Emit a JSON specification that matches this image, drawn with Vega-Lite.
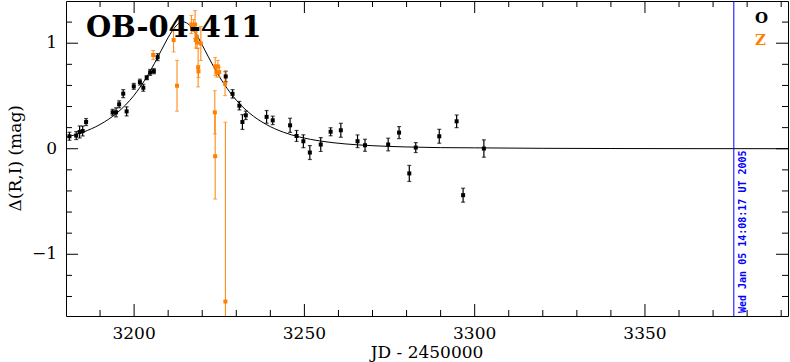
{
  "$schema": "https://vega.github.io/schema/vega-lite/v6.json",
  "width": 722,
  "height": 315,
  "autosize": {"type": "none"},
  "padding": {"left": 66, "top": 1, "right": 2, "bottom": 46},
  "background": "white",
  "config": {
    "view": {"stroke": "black", "strokeWidth": 1},
    "font": "DejaVu Serif"
  },
  "datasets": {
    "xmajor": [{"v": 3200}, {"v": 3250}, {"v": 3300}, {"v": 3350}],
    "xminor": [
      {"v": 3190}, {"v": 3210}, {"v": 3220}, {"v": 3230}, {"v": 3240},
      {"v": 3260}, {"v": 3270}, {"v": 3280}, {"v": 3290}, {"v": 3310},
      {"v": 3320}, {"v": 3330}, {"v": 3340}, {"v": 3360}, {"v": 3370},
      {"v": 3380}, {"v": 3390}
    ],
    "ymajor": [{"v": -1}, {"v": 0}, {"v": 1}],
    "yminor": [
      {"v": -1.4}, {"v": -1.2}, {"v": -0.8}, {"v": -0.6}, {"v": -0.4}, {"v": -0.2},
      {"v": 0.2}, {"v": 0.4}, {"v": 0.6}, {"v": 0.8}, {"v": 1.2}
    ],
    "model": [
      {"jd": 3180.0, "dmag": 0.109},
      {"jd": 3185.0, "dmag": 0.157},
      {"jd": 3190.0, "dmag": 0.230},
      {"jd": 3195.0, "dmag": 0.340},
      {"jd": 3200.0, "dmag": 0.507},
      {"jd": 3203.0, "dmag": 0.644},
      {"jd": 3206.0, "dmag": 0.810},
      {"jd": 3208.0, "dmag": 0.933},
      {"jd": 3210.0, "dmag": 1.054},
      {"jd": 3212.0, "dmag": 1.152},
      {"jd": 3213.4, "dmag": 1.193},
      {"jd": 3214.4, "dmag": 1.202},
      {"jd": 3215.4, "dmag": 1.193},
      {"jd": 3216.8, "dmag": 1.152},
      {"jd": 3218.8, "dmag": 1.054},
      {"jd": 3220.8, "dmag": 0.933},
      {"jd": 3222.8, "dmag": 0.810},
      {"jd": 3225.8, "dmag": 0.644},
      {"jd": 3228.8, "dmag": 0.507},
      {"jd": 3233.8, "dmag": 0.340},
      {"jd": 3238.8, "dmag": 0.230},
      {"jd": 3243.8, "dmag": 0.157},
      {"jd": 3248.6, "dmag": 0.111},
      {"jd": 3254.9, "dmag": 0.072},
      {"jd": 3261.9, "dmag": 0.046},
      {"jd": 3269.9, "dmag": 0.029},
      {"jd": 3279.9, "dmag": 0.017},
      {"jd": 3289.9, "dmag": 0.0105},
      {"jd": 3299.9, "dmag": 0.0085},
      {"jd": 3320.0, "dmag": 0.004},
      {"jd": 3340.0, "dmag": 0.002},
      {"jd": 3360.0, "dmag": 0.001},
      {"jd": 3392.0, "dmag": 0.0004}
    ],
    "obs": [
      {"jd": 3181.0, "dmag": 0.118, "err": 0.038, "band": "O"},
      {"jd": 3183.0, "dmag": 0.125, "err": 0.038, "band": "O"},
      {"jd": 3184.0, "dmag": 0.159, "err": 0.057, "band": "O"},
      {"jd": 3184.9, "dmag": 0.168, "err": 0.047, "band": "O"},
      {"jd": 3185.9, "dmag": 0.253, "err": 0.033, "band": "O"},
      {"jd": 3193.7, "dmag": 0.345, "err": 0.028, "band": "O"},
      {"jd": 3194.7, "dmag": 0.345, "err": 0.043, "band": "O"},
      {"jd": 3195.6, "dmag": 0.421, "err": 0.033, "band": "O"},
      {"jd": 3196.8, "dmag": 0.522, "err": 0.038, "band": "O"},
      {"jd": 3197.8, "dmag": 0.354, "err": 0.043, "band": "O"},
      {"jd": 3199.9, "dmag": 0.591, "err": 0.028, "band": "O"},
      {"jd": 3201.7, "dmag": 0.631, "err": 0.028, "band": "O"},
      {"jd": 3202.7, "dmag": 0.578, "err": 0.033, "band": "O"},
      {"jd": 3203.7, "dmag": 0.673, "err": 0.019, "band": "O"},
      {"jd": 3204.7, "dmag": 0.723, "err": 0.028, "band": "O"},
      {"jd": 3205.8, "dmag": 0.735, "err": 0.024, "band": "O"},
      {"jd": 3206.9, "dmag": 0.868, "err": 0.033, "band": "O"},
      {"jd": 3226.9, "dmag": 0.685, "err": 0.05, "band": "O"},
      {"jd": 3228.9, "dmag": 0.520, "err": 0.04, "band": "O"},
      {"jd": 3230.9, "dmag": 0.408, "err": 0.04, "band": "O"},
      {"jd": 3231.8, "dmag": 0.253, "err": 0.07, "band": "O"},
      {"jd": 3232.8, "dmag": 0.317, "err": 0.04, "band": "O"},
      {"jd": 3238.9, "dmag": 0.302, "err": 0.06, "band": "O"},
      {"jd": 3240.7, "dmag": 0.269, "err": 0.04, "band": "O"},
      {"jd": 3245.8, "dmag": 0.222, "err": 0.067, "band": "O"},
      {"jd": 3247.7, "dmag": 0.121, "err": 0.052, "band": "O"},
      {"jd": 3249.7, "dmag": 0.071, "err": 0.061, "band": "O"},
      {"jd": 3251.6, "dmag": -0.036, "err": 0.066, "band": "O"},
      {"jd": 3254.8, "dmag": 0.040, "err": 0.066, "band": "O"},
      {"jd": 3257.7, "dmag": 0.161, "err": 0.038, "band": "O"},
      {"jd": 3260.7, "dmag": 0.175, "err": 0.066, "band": "O"},
      {"jd": 3265.6, "dmag": 0.071, "err": 0.06, "band": "O"},
      {"jd": 3267.8, "dmag": 0.033, "err": 0.057, "band": "O"},
      {"jd": 3274.6, "dmag": 0.040, "err": 0.06, "band": "O"},
      {"jd": 3277.8, "dmag": 0.153, "err": 0.057, "band": "O"},
      {"jd": 3280.8, "dmag": -0.234, "err": 0.076, "band": "O"},
      {"jd": 3282.7, "dmag": 0.011, "err": 0.047, "band": "O"},
      {"jd": 3289.6, "dmag": 0.118, "err": 0.066, "band": "O"},
      {"jd": 3294.7, "dmag": 0.260, "err": 0.06, "band": "O"},
      {"jd": 3296.6, "dmag": -0.440, "err": 0.066, "band": "O"},
      {"jd": 3302.7, "dmag": 0.002, "err": 0.082, "band": "O"},
      {"jd": 3205.6, "dmag": 0.888, "err": 0.043, "band": "Z"},
      {"jd": 3211.6, "dmag": 1.030, "err": 0.113, "band": "Z"},
      {"jd": 3212.6, "dmag": 0.597, "err": 0.241, "band": "Z"},
      {"jd": 3216.8, "dmag": 1.177, "err": 0.085, "band": "Z"},
      {"jd": 3217.4, "dmag": 1.167, "err": 0.057, "band": "Z"},
      {"jd": 3217.9, "dmag": 1.177, "err": 0.132, "band": "Z"},
      {"jd": 3218.1, "dmag": 1.030, "err": 0.076, "band": "Z"},
      {"jd": 3218.4, "dmag": 1.063, "err": 0.057, "band": "Z"},
      {"jd": 3218.5, "dmag": 1.007, "err": 0.057, "band": "Z"},
      {"jd": 3218.8, "dmag": 0.770, "err": 0.184, "band": "Z"},
      {"jd": 3218.9, "dmag": 0.733, "err": 0.057, "band": "Z"},
      {"jd": 3219.6, "dmag": 0.997, "err": 0.161, "band": "Z"},
      {"jd": 3223.8, "dmag": 0.780, "err": 0.085, "band": "Z"},
      {"jd": 3224.2, "dmag": 0.726, "err": 0.047, "band": "Z"},
      {"jd": 3224.6, "dmag": 0.780, "err": 0.057, "band": "Z"},
      {"jd": 3225.0, "dmag": 0.726, "err": 0.047, "band": "Z"},
      {"jd": 3226.7, "dmag": 0.616, "err": 0.113, "band": "Z"},
      {"jd": 3223.7, "dmag": 0.345, "err": 0.205, "band": "Z"},
      {"jd": 3223.8, "dmag": -0.071, "err": 0.406, "band": "Z"},
      {"jd": 3226.8, "dmag": -1.448, "err": 1.70, "band": "Z"}
    ],
    "stamp": [
      {"jd": 3376.09, "label": "Wed Jan 05 14:08:17 UT 2005"}
    ],
    "event": [
      {"label": "OB-04-411"}
    ],
    "xtitle": [{"t": "JD - 2450000"}],
    "ytitle": [{"t": "Δ(R,I) (mag)"}]
  },
  "layer": [
    {
      "data": {"name": "model"},
      "mark": {"type": "line", "color": "black", "strokeWidth": 1, "interpolate": "monotone", "clip": true},
      "encoding": {
        "x": {"field": "jd", "type": "quantitative", "scale": {"domain": [3180, 3392], "nice": false, "zero": false}, "axis": null},
        "y": {"field": "dmag", "type": "quantitative", "scale": {"domain": [-1.585, 1.4], "nice": false, "zero": false}, "axis": null}
      }
    },
    {
      "data": {"name": "xmajor"},
      "mark": {"type": "rule", "color": "black", "strokeWidth": 1},
      "encoding": {
        "x": {"field": "v", "type": "quantitative", "axis": null},
        "y": {"datum": -1.585, "type": "quantitative", "axis": null},
        "y2": {"datum": -1.471}
      }
    },
    {
      "data": {"name": "xminor"},
      "mark": {"type": "rule", "color": "black", "strokeWidth": 1},
      "encoding": {
        "x": {"field": "v", "type": "quantitative", "axis": null},
        "y": {"datum": -1.585, "type": "quantitative", "axis": null},
        "y2": {"datum": -1.528}
      }
    },
    {
      "data": {"name": "xmajor"},
      "mark": {"type": "rule", "color": "black", "strokeWidth": 1},
      "encoding": {
        "x": {"field": "v", "type": "quantitative", "axis": null},
        "y": {"datum": 1.4, "type": "quantitative", "axis": null},
        "y2": {"datum": 1.286}
      }
    },
    {
      "data": {"name": "xminor"},
      "mark": {"type": "rule", "color": "black", "strokeWidth": 1},
      "encoding": {
        "x": {"field": "v", "type": "quantitative", "axis": null},
        "y": {"datum": 1.4, "type": "quantitative", "axis": null},
        "y2": {"datum": 1.343}
      }
    },
    {
      "data": {"name": "ymajor"},
      "mark": {"type": "rule", "color": "black", "strokeWidth": 1},
      "encoding": {
        "y": {"field": "v", "type": "quantitative", "axis": null},
        "x": {"datum": 3180, "type": "quantitative", "axis": null},
        "x2": {"datum": 3183.52}
      }
    },
    {
      "data": {"name": "yminor"},
      "mark": {"type": "rule", "color": "black", "strokeWidth": 1},
      "encoding": {
        "y": {"field": "v", "type": "quantitative", "axis": null},
        "x": {"datum": 3180, "type": "quantitative", "axis": null},
        "x2": {"datum": 3181.76}
      }
    },
    {
      "data": {"name": "ymajor"},
      "mark": {"type": "rule", "color": "black", "strokeWidth": 1},
      "encoding": {
        "y": {"field": "v", "type": "quantitative", "axis": null},
        "x": {"datum": 3392, "type": "quantitative", "axis": null},
        "x2": {"datum": 3388.48}
      }
    },
    {
      "data": {"name": "yminor"},
      "mark": {"type": "rule", "color": "black", "strokeWidth": 1},
      "encoding": {
        "y": {"field": "v", "type": "quantitative", "axis": null},
        "x": {"datum": 3392, "type": "quantitative", "axis": null},
        "x2": {"datum": 3390.24}
      }
    },
    {
      "data": {"name": "xmajor"},
      "mark": {"type": "text", "align": "center", "baseline": "middle", "dy": 18, "font": "DejaVu Serif", "fontSize": 17, "color": "black"},
      "encoding": {
        "x": {"field": "v", "type": "quantitative", "axis": null},
        "y": {"datum": -1.585, "type": "quantitative", "axis": null},
        "text": {"field": "v", "type": "quantitative", "format": "d"}
      }
    },
    {
      "data": {"name": "ymajor"},
      "mark": {"type": "text", "align": "right", "baseline": "middle", "dx": -9, "font": "DejaVu Serif", "fontSize": 17, "color": "black"},
      "encoding": {
        "y": {"field": "v", "type": "quantitative", "axis": null},
        "x": {"datum": 3180, "type": "quantitative", "axis": null},
        "text": {"field": "v", "type": "quantitative", "format": "d"}
      }
    },
    {
      "data": {"name": "xtitle"},
      "mark": {"type": "text", "align": "center", "baseline": "middle", "dy": 37, "font": "DejaVu Serif", "fontSize": 17, "color": "black"},
      "encoding": {
        "x": {"datum": 3286, "type": "quantitative", "axis": null},
        "y": {"datum": -1.585, "type": "quantitative", "axis": null},
        "text": {"field": "t"}
      }
    },
    {
      "data": {"name": "ytitle"},
      "mark": {"type": "text", "angle": 270, "align": "center", "baseline": "middle", "dy": -50, "font": "DejaVu Serif", "fontSize": 17, "color": "black"},
      "encoding": {
        "x": {"datum": 3180, "type": "quantitative", "axis": null},
        "y": {"datum": -0.09, "type": "quantitative", "axis": null},
        "text": {"field": "t"}
      }
    },
    {
      "data": {"name": "stamp"},
      "mark": {"type": "rule", "color": "#0000ff", "strokeWidth": 1},
      "encoding": {
        "x": {"field": "jd", "type": "quantitative", "axis": null}
      }
    },
    {
      "data": {"name": "obs"},
      "transform": [{"filter": "datum.band === 'O'"}],
      "mark": {"type": "errorbar", "ticks": {"size": 4}, "thickness": 1.2, "color": "#000000", "clip": true},
      "encoding": {
        "x": {"field": "jd", "type": "quantitative", "axis": null},
        "y": {"field": "dmag", "type": "quantitative", "axis": null},
        "yError": {"field": "err"}
      }
    },
    {
      "data": {"name": "obs"},
      "transform": [{"filter": "datum.band === 'Z'"}],
      "mark": {"type": "errorbar", "ticks": {"size": 4}, "thickness": 1, "color": "#ff8000", "clip": true},
      "encoding": {
        "x": {"field": "jd", "type": "quantitative", "axis": null},
        "y": {"field": "dmag", "type": "quantitative", "axis": null},
        "yError": {"field": "err"}
      }
    },
    {
      "data": {"name": "obs"},
      "mark": {"type": "square", "size": 16, "opacity": 1, "clip": true},
      "encoding": {
        "x": {"field": "jd", "type": "quantitative", "axis": null},
        "y": {"field": "dmag", "type": "quantitative", "axis": null},
        "color": {
          "field": "band", "type": "nominal",
          "scale": {"domain": ["O", "Z"], "range": ["#000000", "#ff8000"]},
          "legend": {
            "orient": "none", "legendX": 674, "legendY": 9, "title": null,
            "symbolSize": 0, "symbolStrokeWidth": 0, "symbolOpacity": 0,
            "labelOffset": 0, "padding": 0, "rowPadding": 6,
            "labelFont": "DejaVu Serif", "labelFontSize": 15, "labelFontWeight": "bold",
            "encode": {"labels": {"update": {"fill": {"scale": "color", "field": "value"}}}}
          }
        }
      }
    },
    {
      "data": {"name": "event"},
      "mark": {"type": "text", "align": "left", "baseline": "alphabetic", "font": "DejaVu Serif", "fontSize": 29, "fontWeight": "bold", "color": "black"},
      "encoding": {
        "x": {"datum": 3185.9, "type": "quantitative", "axis": null},
        "y": {"datum": 1.057, "type": "quantitative", "axis": null},
        "text": {"field": "label"}
      }
    },
    {
      "data": {"name": "stamp"},
      "mark": {"type": "text", "angle": 270, "align": "left", "baseline": "top", "dx": 3, "dy": 4, "font": "DejaVu Sans Mono", "fontSize": 10, "fontWeight": "bold", "color": "#0000ff"},
      "encoding": {
        "x": {"field": "jd", "type": "quantitative", "axis": null},
        "y": {"datum": -1.585, "type": "quantitative", "axis": null},
        "text": {"field": "label"}
      }
    }
  ]
}
